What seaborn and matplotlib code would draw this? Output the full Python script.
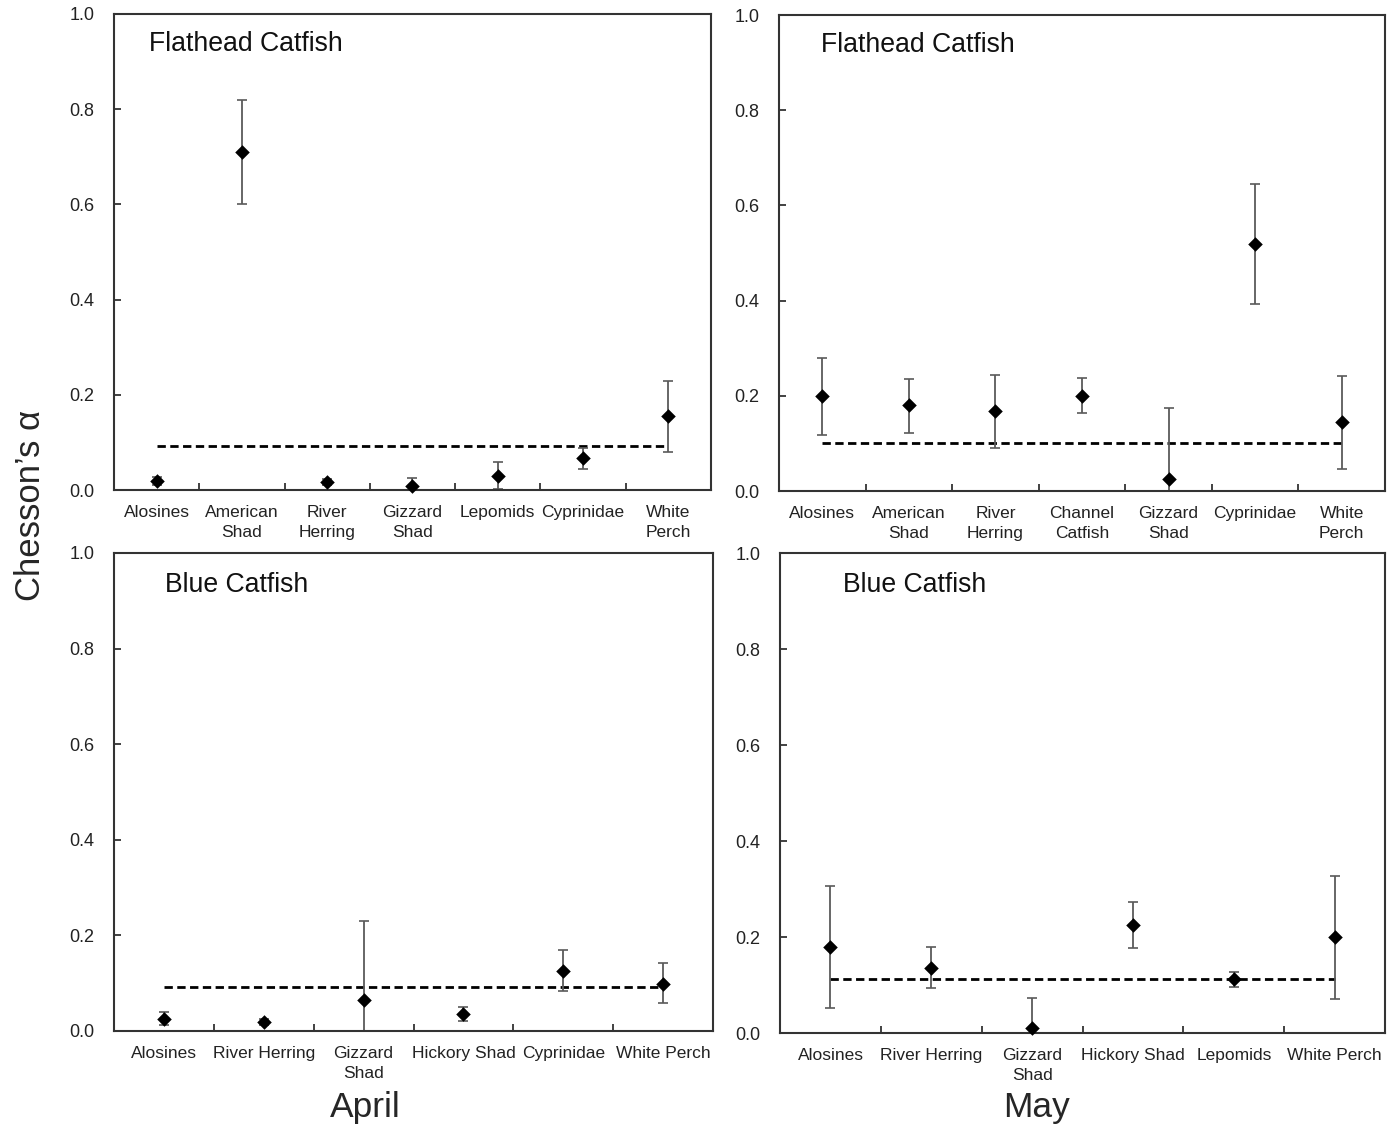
import matplotlib
matplotlib.use('Agg')
import matplotlib.pyplot as plt
import seaborn as sns
import pandas as pd

sns.set_style('white')
plt.rcParams['font.family'] = ['Liberation Sans', 'DejaVu Sans']

# --- April, Flathead Catfish ---
apr_fh_prey = ['Alosines', 'American\nShad', 'River\nHerring', 'Gizzard\nShad',
               'Lepomids', 'Cyprinidae', 'White\nPerch']
apr_fh_alpha = [0.019, 0.71, 0.017, 0.008, 0.030, 0.067, 0.155]
apr_fh_low = [0.011, 0.60, 0.010, 0.000, 0.002, 0.044, 0.080]
apr_fh_high = [0.027, 0.82, 0.024, 0.025, 0.059, 0.088, 0.230]
apr_fh_ref = 0.092

# --- May, Flathead Catfish ---
may_fh_prey = ['Alosines', 'American\nShad', 'River\nHerring', 'Channel\nCatfish',
               'Gizzard\nShad', 'Cyprinidae', 'White\nPerch']
may_fh_alpha = [0.200, 0.180, 0.168, 0.200, 0.025, 0.519, 0.145]
may_fh_low = [0.118, 0.122, 0.090, 0.164, 0.000, 0.393, 0.046]
may_fh_high = [0.280, 0.235, 0.244, 0.237, 0.174, 0.645, 0.242]
may_fh_ref = 0.100

# --- April, Blue Catfish ---
apr_bc_prey = ['Alosines', 'River Herring', 'Gizzard\nShad', 'Hickory Shad',
               'Cyprinidae', 'White Perch']
apr_bc_alpha = [0.025, 0.019, 0.065, 0.036, 0.126, 0.098]
apr_bc_low = [0.013, 0.012, 0.000, 0.021, 0.084, 0.058]
apr_bc_high = [0.039, 0.026, 0.230, 0.050, 0.170, 0.142]
apr_bc_ref = 0.092

# --- May, Blue Catfish ---
may_bc_prey = ['Alosines', 'River Herring', 'Gizzard\nShad', 'Hickory Shad',
               'Lepomids', 'White Perch']
may_bc_alpha = [0.179, 0.135, 0.010, 0.225, 0.112, 0.200]
may_bc_low = [0.052, 0.093, 0.000, 0.177, 0.096, 0.070]
may_bc_high = [0.306, 0.180, 0.073, 0.273, 0.128, 0.327]
may_bc_ref = 0.112

panels = [
    ([0.0820, 0.5656, 0.4295, 0.4220], 'Flathead Catfish', (0.059, 0.937),
     apr_fh_prey, apr_fh_alpha, apr_fh_low, apr_fh_high, apr_fh_ref),
    ([0.5604, 0.5647, 0.4360, 0.4220], 'Flathead Catfish', (0.069, 0.937),
     may_fh_prey, may_fh_alpha, may_fh_low, may_fh_high, may_fh_ref),
    ([0.0820, 0.0860, 0.4310, 0.4238], 'Blue Catfish', (0.085, 0.933),
     apr_bc_prey, apr_bc_alpha, apr_bc_low, apr_bc_high, apr_bc_ref),
    ([0.5612, 0.0842, 0.4353, 0.4255], 'Blue Catfish', (0.104, 0.933),
     may_bc_prey, may_bc_alpha, may_bc_low, may_bc_high, may_bc_ref),
]

fig = plt.figure(figsize=(13.9, 11.28), dpi=100)

for rect, title, tpos, prey, alpha, low, high, ref in panels:
    ax = fig.add_axes(rect)
    n = len(prey)
    df = pd.DataFrame({'x': range(n), 'alpha': alpha, 'low': low, 'high': high})

    # error bars (asymmetric)
    ax.errorbar(df['x'], df['alpha'],
                yerr=[df['alpha'] - df['low'], df['high'] - df['alpha']],
                fmt='none', ecolor='#5a5a5a', elinewidth=1.3, capsize=3.5,
                capthick=1.2, zorder=2)
    # neutral selection line
    ax.plot([0, n - 1], [ref, ref], color='black', ls=(0, (3, 1.6)), lw=2, zorder=1)
    sns.scatterplot(data=df, x='x', y='alpha', marker='D', color='black',
                    s=55, edgecolor='black', linewidth=0, ax=ax, zorder=3,
                    clip_on=False)

    ax.set_xlim(-0.5, n - 0.5)
    ax.set_ylim(0, 1.0)
    ax.set_yticks([0, 0.2, 0.4, 0.6, 0.8, 1.0])
    ax.set_yticklabels(['0.0', '0.2', '0.4', '0.6', '0.8', '1.0'])
    ax.set_xticks(range(n))
    ax.set_xticklabels(prey, linespacing=1.4)
    ax.set_xticks([i + 0.5 for i in range(n - 1)], minor=True)
    ax.tick_params(axis='x', which='major', length=0, pad=11, labelsize=12.5,
                   labelcolor='#222222')
    ax.tick_params(axis='x', which='minor', direction='in', length=5, width=1.3,
                   color='#333333', bottom=True)
    ax.tick_params(axis='y', direction='in', length=5, width=1.3, pad=14,
                   labelsize=13, labelcolor='#222222', color='#333333', left=True)
    ax.set_xlabel('')
    ax.set_ylabel('')
    for sp in ax.spines.values():
        sp.set_color('#333333')
        sp.set_linewidth(1.5)
    ax.text(tpos[0], tpos[1], title, transform=ax.transAxes, fontsize=19.2,
            ha='left', va='center', color='#111111')

fig.text(0.0216, 0.552, 'Chesson\u2019s \u03b1', rotation=90, fontsize=25,
         ha='center', va='center')
fig.text(0.2626, 0.0186, 'April', fontsize=25.5, ha='center', va='center')
fig.text(0.7460, 0.0186, 'May', fontsize=25.5, ha='center', va='center')

fig.savefig('out.png', dpi=100)
